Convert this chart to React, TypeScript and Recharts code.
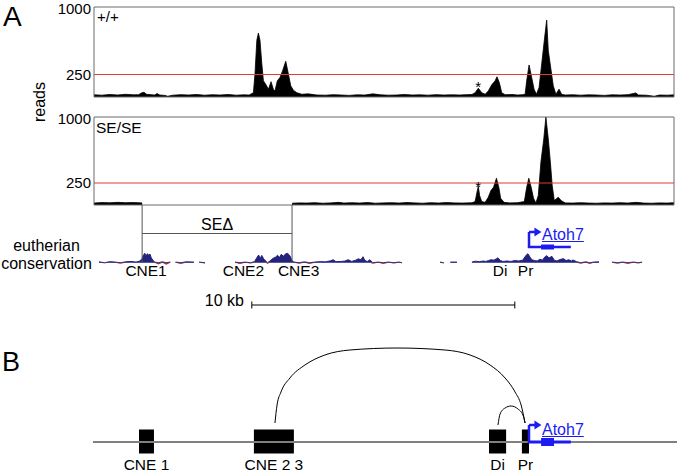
import {
  Area,
  AreaChart,
  ComposedChart,
  Line,
  ReferenceArea,
  ReferenceDot,
  ReferenceLine,
  XAxis,
  YAxis,
} from "recharts";

const PX_PER_KB = 26.3;
const TRACK_LEFT = 94;
const TRACK_KB = 22.05;
const FULL_MIN = -TRACK_LEFT / PX_PER_KB;
const FULL_MAX = (677 - TRACK_LEFT) / PX_PER_KB;
const FONT = "'Liberation Sans', Arial, sans-serif";
const RED = "#e53935";
const BLUE = "#1c1cf0";
const NAVY = "#23237e";

const kbToX = (kb: number) => TRACK_LEFT + kb * PX_PER_KB;

// ATAC reads, +/+ (kb from left edge of the browser window)
const wtKb = [
  0, 0.3, 0.6, 0.9, 1.2, 1.5, 1.7, 1.8, 1.9, 2.0, 2.3, 2.4, 2.5, 2.7, 2.8, 3.0, 3.3, 3.6, 3.9, 4.2,
  4.5, 4.8, 5.1, 5.4, 5.7, 5.9, 6.06, 6.12, 6.19, 6.25, 6.31, 6.38, 6.44, 6.54, 6.63, 6.73, 6.82,
  6.88, 6.97, 7.07, 7.17, 7.29, 7.39, 7.48, 7.58, 7.71, 7.9, 8.14, 8.47, 8.8, 9.1, 9.4, 9.7, 10.0,
  10.3, 10.6, 10.9, 11.2, 11.5, 11.8, 12.1, 12.4, 12.7, 13.0, 13.3, 13.6, 13.9, 14.11, 14.37, 14.49,
  14.61, 14.74, 14.87, 14.99, 15.12, 15.25, 15.32, 15.41, 15.5, 15.63, 15.89, 16.1, 16.31, 16.39,
  16.45, 16.54, 16.64, 16.73, 16.82, 16.92, 17.02, 17.12, 17.21, 17.27, 17.37, 17.46, 17.56, 17.68,
  17.78, 17.91, 18.2, 18.5, 18.8, 19.1, 19.4, 19.7, 20.0, 20.3, 20.6, 20.7, 21.0, 21.3, 21.5, 21.8,
  22.05,
];
const wtReads = [
  25, 20, 28, 22, 30, 24, 26, 45, 52, 30, 22, 38, 22, 18, 8, 20, 26, 22, 28, 20,
  25, 22, 28, 20, 24, 22, 48, 255, 630, 710, 630, 370, 180, 135, 85, 170, 85,
  67, 180, 217, 292, 397, 255, 124, 75, 48, 30, 35, 22, 20, 26, 22, 18, 24,
  22, 35, 24, 20, 22, 28, 22, 24, 20, 26, 22, 24, 22, 25, 28, 48,
  98, 48, 30, 67, 135, 180, 225, 160, 48, 25, 28, 22, 26, 30,
  180, 356, 217, 87, 30, 105, 367, 630, 855, 517, 311, 124, 30, 87,
  30, 22, 25, 20, 24, 22, 18, 24, 22, 26, 45, 22, 20, 8, 22, 20,
  24,
];

// ATAC reads, SE/SE (null = deleted interval)
const seKb = [
  0, 0.3, 0.6, 0.9, 1.2, 1.5, 1.83, 1.9, 7.5, 7.53, 7.8, 8.1, 8.4, 8.7, 9.0, 9.3, 9.5, 9.8, 10.1,
  10.4, 10.7, 11.0, 11.3, 11.6, 11.9, 12.2, 12.5, 12.8, 13.1, 13.4, 13.7, 14.0, 14.37, 14.49, 14.56,
  14.61, 14.66, 14.74, 14.87, 14.99, 15.09, 15.19, 15.3, 15.39, 15.46, 15.59, 15.8, 16.1, 16.36,
  16.45, 16.53, 16.62, 16.71, 16.8, 16.89, 16.99, 17.1, 17.18, 17.27, 17.35, 17.42, 17.5, 17.65,
  17.76, 17.91, 18.2, 18.5, 18.8, 19.1, 19.4, 19.7, 20.0, 20.3, 20.6, 20.9, 21.2, 21.5, 21.8, 22.05,
];
const seReads = [
  22, 28, 25, 30, 26, 28, 24, null, null, 20, 24, 22, 26, 20, 24, 30, 22, 26, 22,
  28, 20, 24, 26, 22, 28, 24, 20, 26, 22, 28, 24, 22, 25, 39, 145,
  213, 107, 39, 30, 88, 164, 202, 304, 202, 76, 30, 24, 26, 39,
  202, 304, 202, 76, 23, 107, 487, 752, 1000, 752, 487, 221, 50, 88,
  50, 24, 22, 26, 22, 20, 24, 22, 26, 22, 30, 22, 20, 24, 22, 26,
];

// eutherian conservation score (null = no alignment)
const consKb = [
  0.19, 0.4, 0.6, 0.8, 1.0, 1.2, 1.4, 1.6, 1.75, 1.83, 1.88, 1.93, 1.98, 2.03, 2.08, 2.13, 2.18,
  2.24, 2.3, 2.45, 2.6, 2.75, 2.9, 2.95, 3.1, 3.3, 3.5, 3.8, 3.85, 4.0, 4.22, 4.25,
  5.36, 5.55, 5.75, 5.95, 6.1, 6.2, 6.26, 6.32, 6.38, 6.45, 6.52, 6.6, 6.69, 6.8, 6.9, 6.98, 7.05,
  7.12, 7.2, 7.28, 7.36, 7.45, 7.53, 7.6, 7.8, 8.0, 8.2, 8.4, 8.6, 8.8, 9.0, 9.09, 9.2, 9.4, 9.55,
  9.66, 9.8, 9.95, 10.05, 10.15, 10.23, 10.3, 10.4, 10.49, 10.6, 10.8, 11.0, 11.2, 11.4, 11.6,
  11.71, 11.75,
  13.16, 13.3, 13.45, 13.55, 13.8, 13.85,
  14.37, 14.5, 14.65, 14.8, 14.9, 15.0, 15.1, 15.2, 15.3, 15.36, 15.45, 15.55, 15.7, 15.85, 16.0,
  16.15, 16.3, 16.43, 16.5, 16.58, 16.65, 16.75, 16.85, 16.95, 17.05, 17.15, 17.22, 17.3, 17.41,
  17.5, 17.6, 17.72, 17.85, 17.95, 18.05, 18.15, 18.21, 18.35, 18.5, 18.7, 18.85, 19.0, 19.2,
  19.35, 19.7, 19.9, 20.1, 20.3, 20.5, 20.7, 20.84,
];
const consScore = [
  0.4, -0.3, 0.5, 0.3, -0.5, 0.4, 0.6, 0.3, 0.8, 2.0, 3.5, 4.4, 3.2, 4.2, 3.6, 4.0, 2.2,
  1.2, 0.3, -0.8, 0.4, -0.9, 0.3, null, 0.3, -0.6, 0.4, 0.3, null, 0.3, -0.4, null,
  0.3, -0.6, 0.3, -0.4, 0.5, 2.5, 3.6, 2.0, 3.4, 1.8, 0.9, -0.5, 0.8, 2.0, 2.6, 3.5, 2.4,
  3.9, 3.0, 4.1, 4.4, 3.2, 1.0, 0.3, -0.5, 0.4, -0.6, 0.3, 0.5, 0.4, 0.9, 1.4, 0.5, 0.6, 0.8,
  1.4, 0.6, 1.2, 1.8, 1.4, 2.8, 1.0, 0.6, 1.4, -0.5, 0.3, -0.6, 0.3, -0.4, 0.3,
  -0.3, null,
  0.3, -0.4, null, 0.3, 0.3, null,
  0.3, 0.7, 0.5, 0.8, 0.6, 1.0, 1.4, 1.2, 1.8, 2.3, 1.0, 0.6, 0.8, 0.6, 1.0,
  0.8, 1.2, 3.5, 4.2, 2.6, 1.4, 1.0, 0.8, 1.6, 1.2, 2.8, 3.3, 2.2, 3.0,
  1.2, 0.8, 1.5, 1.9, 1.0, 1.4, 0.8, 1.3, 0.5, -0.5, 0.4, -0.6, 0.3, 0.4,
  null, 0.3, -0.5, 0.3, -0.6, 0.3, -0.4, 0.3,
];

// panel A labels
const aLabels = ["CNE1", "CNE2", "CNE3", "Di", "Pr"];
const aLabelKb = [1.98, 5.68, 7.78, 15.44, 16.41];

// deletion and scale bar
const seDelStart = 1.83;
const seDelEnd = 7.53;
const scaleStart = 6;
const scaleEnd = 16;

// Atoh7 gene model
const atohTss = 16.54;
const atohStart = 16.5;
const atohEnd = 18.13;
const atohExonStart = 17.0;
const atohExonEnd = 17.49;

// panel B elements
const bNames = ["CNE 1", "CNE 2 3", "Di", "Pr"];
const bStart = [1.71, 6.08, 15.02, 16.27];
const bEnd = [2.28, 7.6, 15.67, 16.54];
const bigArcKb = [6.88, 6.96, 7.11, 7.45, 8.02, 8.78, 9.73, 11.52, 13.35, 14.3, 15.06, 15.63, 16.01, 16.24, 16.39];
const bigArcH = [19, 37, 50, 64, 77, 87, 92, 94, 92, 87, 77, 64, 50, 37, 19];
const smallArcKb = [15.36, 15.44, 15.63, 15.86, 16.12, 16.31, 16.39];
const smallArcH = [17, 28, 34, 36, 33, 27, 19];

const wtRows = wtKb.map((kb, i) => ({ kb, reads: wtReads[i] }));
const seRows = seKb.map((kb, i) => ({ kb, reads: seReads[i] }));
const consRows = consKb.map((kb, i) => {
  const v = consScore[i];
  return {
    kb,
    up: v === null ? null : Math.max(v, 0),
    down: v === null ? null : Math.min(v, 0),
  };
});
const bigArc = bigArcKb.map((kb, i) => ({ kb, h: bigArcH[i] }));
const smallArc = smallArcKb.map((kb, i) => ({ kb, h: smallArcH[i] }));

function Txt({
  x,
  y,
  size = 16,
  anchor = "start",
  color = "#000",
  underline = false,
  children,
}: {
  x: number;
  y: number;
  size?: number;
  anchor?: "start" | "middle" | "end";
  color?: string;
  underline?: boolean;
  children: React.ReactNode;
}) {
  const shift = anchor === "middle" ? "-50%" : anchor === "end" ? "-100%" : "0";
  return (
    <div
      style={{
        position: "absolute",
        left: x,
        top: y - size * 0.85,
        fontSize: size,
        lineHeight: 1,
        color,
        whiteSpace: "nowrap",
        transform: `translateX(${shift})`,
        textDecoration: underline ? "underline" : "none",
      }}
    >
      {children}
    </div>
  );
}

const arrowHead = (props: any) => {
  const { cx, cy } = props;
  return <path d={`M${cx - 3},${cy - 4.5} L${cx + 4},${cy} L${cx - 3},${cy + 4.5} Z`} fill={BLUE} />;
};

function Track({ rows, top, bottom }: { rows: any[]; top: number; bottom: number }) {
  return (
    <AreaChart width={677} height={100} data={rows} margin={{ top, right: 3, bottom, left: 0 }}>
      <XAxis type="number" dataKey="kb" domain={[0, TRACK_KB]} hide allowDataOverflow />
      <YAxis
        type="number"
        domain={[0, 1000]}
        ticks={[250, 1000]}
        width={94}
        tickLine={false}
        axisLine={false}
        tickSize={0}
        tickMargin={3}
        tick={{ fill: "#000", fontSize: 15, fontFamily: FONT }}
      />
      <Area
        dataKey="reads"
        type="linear"
        stroke="#000"
        strokeWidth={0.8}
        fill="#000"
        fillOpacity={1}
        baseValue={0}
        isAnimationActive={false}
      />
      <ReferenceLine y={250} stroke={RED} strokeWidth={1} />
      <ReferenceArea x1={0} x2={TRACK_KB} y1={0} y2={1000} fill="none" stroke="#6b6b6b" strokeWidth={1} />
    </AreaChart>
  );
}

export default function App() {
  return (
    <div
      style={{
        position: "absolute",
        left: 0,
        top: 0,
        width: 677,
        height: 473,
        background: "#fff",
        fontFamily: FONT,
        overflow: "hidden",
      }}
    >
      <div style={{ position: "absolute", left: 0, top: 0 }}>
        <Track rows={wtRows} top={7} bottom={3} />
      </div>
      <div style={{ position: "absolute", left: 0, top: 110 }}>
        <Track rows={seRows} top={7} bottom={5} />
      </div>

      <div style={{ position: "absolute", left: 0, top: 252 }}>
        <AreaChart width={677} height={15} data={consRows} margin={{ top: 0, right: 0, bottom: 0, left: 0 }}>
          <XAxis type="number" dataKey="kb" domain={[FULL_MIN, FULL_MAX]} hide allowDataOverflow />
          <YAxis type="number" domain={[-2, 5]} hide allowDataOverflow />
          <Area dataKey="up" type="linear" stroke={NAVY} strokeWidth={1} fill={NAVY} fillOpacity={1} baseValue={0} isAnimationActive={false} />
          <Area dataKey="down" type="linear" stroke="none" fill="#a8322f" fillOpacity={1} baseValue={0} isAnimationActive={false} />
        </AreaChart>
      </div>

      <div style={{ position: "absolute", left: 0, top: 0 }}>
        <ComposedChart width={677} height={473} data={[]} margin={{ top: 0, right: 0, bottom: 0, left: 0 }}>
          <XAxis type="number" dataKey="kb" domain={[FULL_MIN, FULL_MAX]} hide allowDataOverflow />
          <YAxis type="number" domain={[0, 473]} reversed hide allowDataOverflow />
          <ReferenceLine segment={[{ x: seDelStart, y: 205 }, { x: seDelStart, y: 262.7 }]} stroke="#555" strokeWidth={1} />
          <ReferenceLine segment={[{ x: seDelEnd, y: 205 }, { x: seDelEnd, y: 262.7 }]} stroke="#555" strokeWidth={1} />
          <ReferenceLine segment={[{ x: seDelStart, y: 233.5 }, { x: seDelEnd, y: 233.5 }]} stroke="#555" strokeWidth={1} />
          <ReferenceLine segment={[{ x: scaleStart, y: 305 }, { x: scaleEnd, y: 305 }]} stroke="#000" strokeWidth={1} />
          <ReferenceLine segment={[{ x: scaleStart, y: 301.5 }, { x: scaleStart, y: 308.5 }]} stroke="#000" strokeWidth={1} />
          <ReferenceLine segment={[{ x: scaleEnd, y: 301.5 }, { x: scaleEnd, y: 308.5 }]} stroke="#000" strokeWidth={1} />
          <ReferenceLine segment={[{ x: atohStart, y: 247 }, { x: atohEnd, y: 247 }]} stroke={BLUE} strokeWidth={2.5} />
          <ReferenceArea x1={atohExonStart} x2={atohExonEnd} y1={244.5} y2={249.5} fill={BLUE} fillOpacity={1} stroke="none" />
          <ReferenceLine segment={[{ x: atohTss, y: 248 }, { x: atohTss, y: 232 }]} stroke={BLUE} strokeWidth={2.5} />
          <ReferenceLine segment={[{ x: atohTss, y: 232 }, { x: atohTss + 0.25, y: 232 }]} stroke={BLUE} strokeWidth={2.5} />
          <ReferenceDot x={atohTss + 0.32} y={232} r={4} shape={arrowHead} />
        </ComposedChart>
      </div>

      <div style={{ position: "absolute", left: 0, top: 340 }}>
        <ComposedChart width={677} height={133} margin={{ top: 0, right: 0, bottom: 0, left: 0 }}>
          <XAxis type="number" dataKey="kb" domain={[FULL_MIN, FULL_MAX]} hide allowDataOverflow />
          <YAxis type="number" domain={[-31, 102]} hide allowDataOverflow />
          <ReferenceLine segment={[{ x: -0.04, y: 0 }, { x: FULL_MAX, y: 0 }]} stroke="#808080" strokeWidth={1.8} />
          {bStart.map((s, i) => (
            <ReferenceArea key={bNames[i]} x1={s} x2={bEnd[i]} y1={-11.5} y2={12.5} fill="#000" fillOpacity={1} stroke="none" />
          ))}
          <Line data={bigArc} dataKey="h" type="monotone" stroke="#000" strokeWidth={1} dot={false} isAnimationActive={false} />
          <Line data={smallArc} dataKey="h" type="monotone" stroke="#000" strokeWidth={1} dot={false} isAnimationActive={false} />
          <ReferenceLine segment={[{ x: atohStart, y: 0 }, { x: atohEnd, y: 0 }]} stroke={BLUE} strokeWidth={3} />
          <ReferenceArea x1={atohExonStart} x2={atohExonEnd} y1={-4} y2={4} fill={BLUE} fillOpacity={1} stroke="none" />
          <ReferenceLine segment={[{ x: atohTss, y: -1 }, { x: atohTss, y: 17 }]} stroke={BLUE} strokeWidth={2.5} />
          <ReferenceLine segment={[{ x: atohTss, y: 17 }, { x: atohTss + 0.25, y: 17 }]} stroke={BLUE} strokeWidth={2.5} />
          <ReferenceDot x={atohTss + 0.32} y={17} r={4} shape={arrowHead} />
        </ComposedChart>
      </div>

      <Txt x={3} y={27} size={28}>A</Txt>
      <Txt x={2} y={372} size={27}>B</Txt>
      <Txt x={97} y={22} size={15}>+/+</Txt>
      <Txt x={96} y={133} size={15.5}>SE/SE</Txt>
      <Txt x={kbToX(14.61)} y={92} size={15} anchor="middle">*</Txt>
      <Txt x={kbToX(14.61)} y={192} size={15} anchor="middle">*</Txt>
      <div
        style={{
          position: "absolute",
          left: 40,
          top: 102,
          fontSize: 16,
          lineHeight: 1,
          transform: "translate(-50%, -50%) rotate(-90deg)",
        }}
      >
        reads
      </div>
      <Txt x={kbToX((seDelStart + seDelEnd) / 2)} y={231} anchor="middle">SEΔ</Txt>
      <Txt x={46.5} y={252} anchor="middle">eutherian</Txt>
      <Txt x={46.5} y={270} anchor="middle">conservation</Txt>
      {aLabels.map((l, i) => (
        <Txt key={l} x={kbToX(aLabelKb[i])} y={276} size={15.5} anchor="middle">
          {l}
        </Txt>
      ))}
      <Txt x={244} y={307} anchor="end">10 kb</Txt>
      <Txt x={542} y={240.5} color={BLUE} underline>Atoh7</Txt>
      {bNames.map((l, i) => (
        <Txt key={l} x={kbToX((bStart[i] + bEnd[i]) / 2)} y={470} size={15.5} anchor="middle">
          {l}
        </Txt>
      ))}
      <Txt x={542} y={436} color={BLUE} underline>Atoh7</Txt>
    </div>
  );
}
